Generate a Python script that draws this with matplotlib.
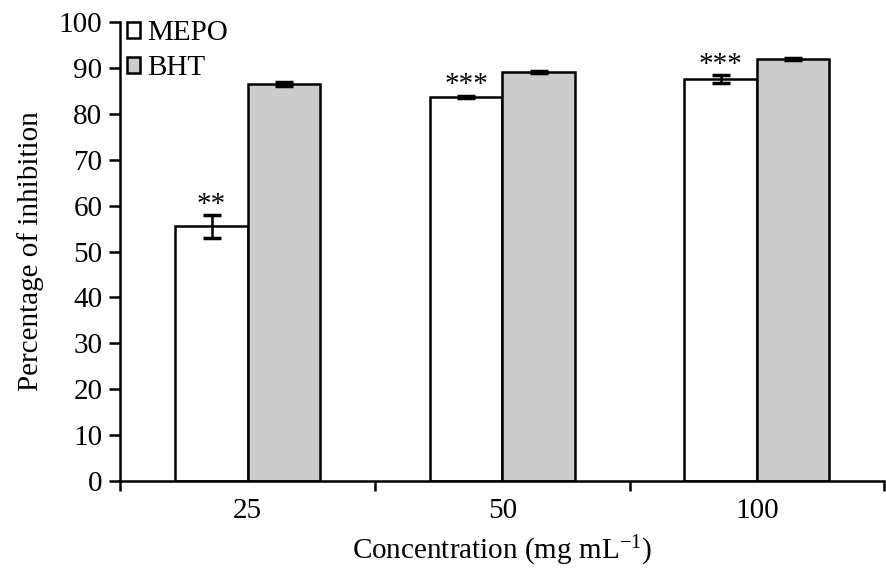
import numpy as np
import matplotlib.pyplot as plt
from matplotlib.patches import Rectangle

plt.rcParams['font.family'] = ['Liberation Serif', 'DejaVu Serif']
plt.rcParams['mathtext.fontset'] = 'custom'
plt.rcParams['mathtext.rm'] = 'Liberation Serif'
plt.rcParams['mathtext.default'] = 'rm'

# data
concentrations = ["25", "50", "100"]
mepo = [55.5, 83.7, 87.6]
mepo_err = [2.5, 0.3, 0.8]
bht = [86.5, 89.1, 91.9]
bht_err = [0.5, 0.2, 0.2]
stars = ["**", "***", "***"]

x = np.arange(len(concentrations))
w = 0.285
fs = 21

fig = plt.figure(figsize=(8.86, 5.75), dpi=100)
ax = fig.add_axes([0.136, 0.1635, 0.862, 0.798])

ax.bar(x - w / 2, mepo, w, color="white", edgecolor="black", linewidth=1.8,
       yerr=mepo_err, capsize=6.5, error_kw=dict(elinewidth=1.8, capthick=2.5),
       label="MEPO")
ax.bar(x + w / 2, bht, w, color="#cccccc", edgecolor="black", linewidth=1.8,
       yerr=bht_err, capsize=6.5, error_kw=dict(elinewidth=1.8, capthick=2.5),
       label="BHT")

# significance marks
for i in range(len(x)):
    ax.text(x[i] - w / 2, mepo[i] + mepo_err[i] - 0.6, stars[i],
            ha="center", va="bottom", fontsize=fs)

ax.set_xlim(-0.5, 2.5)
ax.set_ylim(0, 100)
ax.set_yticks(np.arange(0, 101, 10))
ax.set_xticks([-0.5, 0.5, 1.5, 2.5])
ax.set_xticklabels([])
ax.set_xticks(x, minor=True)
ax.set_xticklabels(concentrations, minor=True)
ax.tick_params(axis="x", which="minor", length=0, pad=12, labelsize=fs)
ax.tick_params(axis="x", which="major", direction="out", length=7, width=1.8)
ax.tick_params(axis="y", direction="out", length=8, width=1.8, labelsize=fs, pad=5)

ax.spines["top"].set_visible(False)
ax.spines["right"].set_visible(False)
ax.spines["left"].set_linewidth(1.8)
ax.spines["bottom"].set_linewidth(1.8)

ax.set_ylabel("Percentage of inhibition", fontsize=fs, labelpad=11)
ax.set_xlabel("Concentration (mg mL$^{-1}$)", fontsize=fs, labelpad=7)

h1 = Rectangle((0, 0), 1, 1, facecolor="white", edgecolor="black", linewidth=1.8)
h2 = Rectangle((0, 0), 1, 1, facecolor="#cccccc", edgecolor="black", linewidth=1.8)
ax.legend([h1, h2], ["MEPO", "BHT"], loc="upper left", frameon=False,
          fontsize=fs, handlelength=0.45, handleheight=0.45, handletextpad=0.25,
          labelspacing=0.3, borderaxespad=0.0, borderpad=0.1,
          bbox_to_anchor=(0.005, 1.01))

fig.savefig("out.png", dpi=100)
